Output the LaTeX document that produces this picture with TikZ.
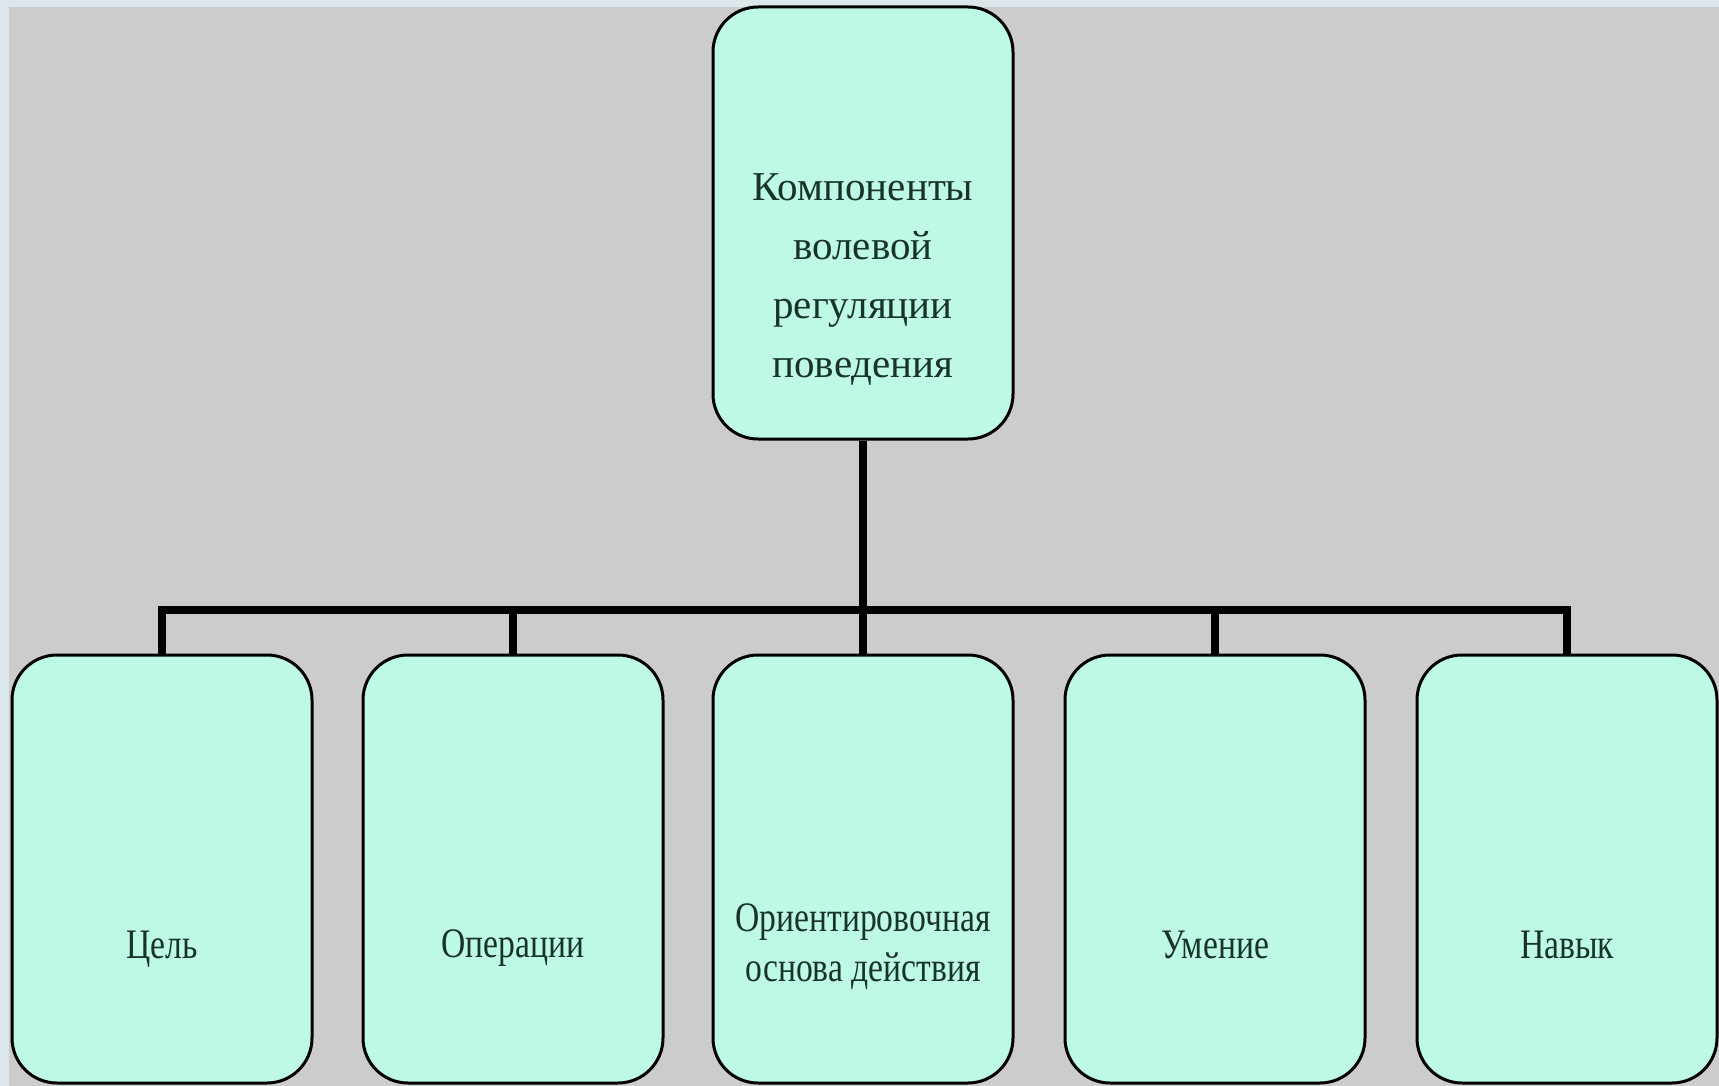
\documentclass[tikz,border=0pt]{standalone}
\usepackage{fontspec}
\setmainfont{Liberation Serif}
\newfontfamily\narrowfont[FakeStretch=0.8]{Liberation Serif}
\definecolor{bandc}{HTML}{DCE7EB}
\definecolor{bgc}{HTML}{CCCCCC}
\definecolor{boxc}{HTML}{BEF9E5}
\definecolor{txtc}{HTML}{18332A}
\tikzset{
  box/.style={draw=black, line width=3pt, fill=boxc, rounded corners=45pt,
    minimum width=300pt, inner sep=0pt},
  topbox/.style={box, minimum height=432pt},
  botbox/.style={box, minimum height=428pt},
  toptext/.style={text=txtc, align=center, font=\fontsize{41}{59}\selectfont},
  bottext/.style={text=txtc, align=center, font=\narrowfont\fontsize{42}{50}\selectfont},
  conn/.style={draw=black, line width=8pt}
}
\begin{document}
\begin{tikzpicture}[x=1pt,y=-1pt]
\useasboundingbox (0,0) rectangle (1719,1086);
\fill[bandc] (0,0) rectangle (1719,1086);
\fill[bgc] (9,7) rectangle (1719,1086);
\coordinate (bar) at (863,610);
\node[topbox] (top) at (863,223) {};
\node[botbox] (b1) at (162,869) {};
\node[botbox] (b2) at (513,869) {};
\node[botbox] (b3) at (863,869) {};
\node[botbox] (b4) at (1215,869) {};
\node[botbox] (b5) at (1567,869) {};
\draw[conn] (top.south) -- (bar);
\draw[conn] (b1.north) |- (bar) -| (b5.north);
\draw[conn] (b2.north) -- (b2.north |- bar);
\draw[conn] (b3.north) -- (bar);
\draw[conn] (b4.north) -- (b4.north |- bar);
\node[toptext] (t0) at ([yshift=-57pt]top.center) {Компоненты\\волевой\\регуляции\\поведения};
\node[bottext, anchor=base] (t1) at ([yshift=-89pt]b1.center) {Цель};
\node[bottext, anchor=base] (t2) at ([yshift=-88pt]b2.center) {Операции};
\node[bottext] (t3) at ([yshift=-78pt]b3.center) {Ориентировочная\\основа действия};
\node[bottext, anchor=base] (t4) at ([yshift=-89pt]b4.center) {Умение};
\node[bottext, anchor=base] (t5) at ([yshift=-89pt]b5.center) {Навык};
\end{tikzpicture}
\end{document}
